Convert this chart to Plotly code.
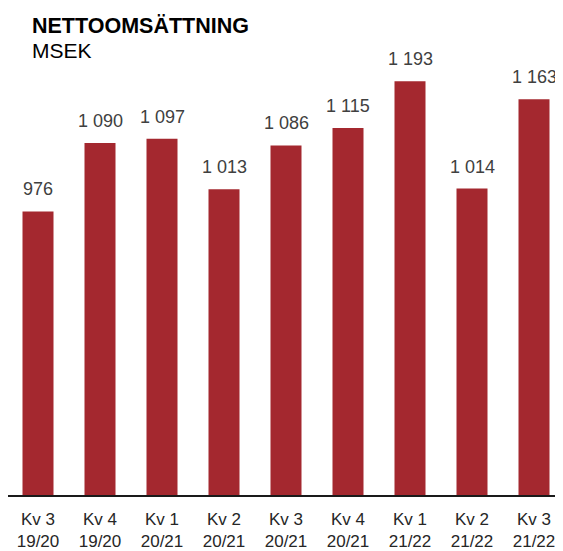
import plotly.graph_objects as go

quarters = ["Kv 3", "Kv 4", "Kv 1", "Kv 2", "Kv 3", "Kv 4", "Kv 1", "Kv 2", "Kv 3"]
years = ["19/20", "19/20", "20/21", "20/21", "20/21", "20/21", "21/22", "21/22", "21/22"]
values = [976, 1090, 1097, 1013, 1086, 1115, 1193, 1014, 1163]
title_text = "NETTOOMSÄTTNING"
unit_text = "MSEK"

categories = [f"{q}<br>{y}" for q, y in zip(quarters, years)]
xidx = list(range(len(values)))


def fmt(v):
    return f"{v:,}".replace(",", " ")


FONT = "Liberation Sans, Arial, sans-serif"
BAR = "#a4282f"

# page body has an 8px margin, so the figure is sized to the remaining area
W, H = 555, 543
ML, MR, MT, MB = 0, 0, 52, 53
PH = H - MT - MB

fig = go.Figure(
    go.Bar(
        x=xidx,
        y=values,
        marker=dict(color=BAR, line=dict(width=0)),
        width=0.5,
        hoverinfo="skip",
    )
)

for i, v in zip(xidx, values):
    fig.add_annotation(
        x=i, y=v, xref="x", yref="y", text=fmt(v), showarrow=False,
        yanchor="bottom", yshift=10,
        font=dict(family=FONT, size=18, color="#404040"),
    )

fig.add_annotation(
    x=22 / W, y=(PH + 48) / PH, xref="paper", yref="paper",
    text=f"<b>{title_text}</b>",
    showarrow=False, xanchor="left", yanchor="top",
    font=dict(family=FONT, size=21.5, color="#000000"),
)
fig.add_annotation(
    x=22 / W, y=(PH + 23) / PH, xref="paper", yref="paper",
    text=unit_text,
    showarrow=False, xanchor="left", yanchor="top",
    font=dict(family=FONT, size=21, color="#000000"),
)

fig.update_layout(
    width=W, height=H,
    margin=dict(l=ML, r=MR, t=MT, b=MB, pad=0),
    paper_bgcolor="white", plot_bgcolor="white",
    showlegend=False,
    xaxis=dict(
        tickmode="array", tickvals=xidx, ticktext=categories,
        range=[-30 / 62, (W - 30) / 62],
        showgrid=False, zeroline=False,
        showline=True, linecolor="#1a1a1a", linewidth=1.5,
        ticks="", ticklabelstandoff=8,
        tickfont=dict(family=FONT, size=17, color="#262626"),
    ),
    yaxis=dict(
        range=[503, 503 + PH / 0.6037],
        visible=False, showgrid=False, zeroline=False,
    ),
)

fig.write_html("out.html")
